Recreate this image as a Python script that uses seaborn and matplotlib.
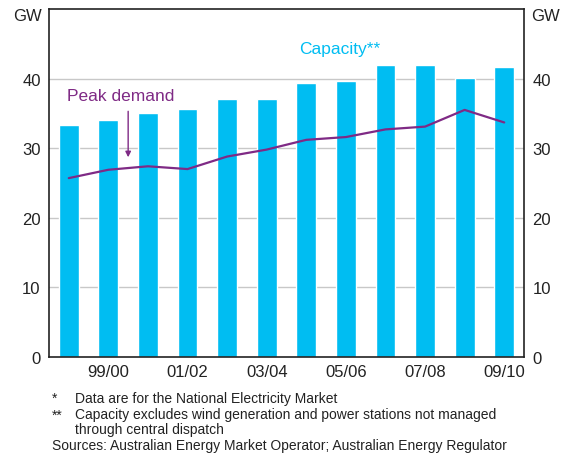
import numpy as np
import pandas as pd
import matplotlib
matplotlib.use("Agg")
import matplotlib.pyplot as plt
import seaborn as sns

years = ["98/99", "99/00", "00/01", "01/02", "02/03", "03/04",
         "04/05", "05/06", "06/07", "07/08", "08/09", "09/10"]
capacity = [33.4, 34.1, 35.1, 35.7, 37.0, 37.1, 39.4, 39.7, 41.9, 42.0, 40.1, 41.7]
peak_demand = [25.7, 26.9, 27.4, 27.0, 28.8, 29.8, 31.2, 31.6, 32.7, 33.1, 35.5, 33.7]
y_ticks = [0, 10, 20, 30, 40]

BAR = "#00BDF2"
LINE = "#7F2A85"
GRID = "#C8C8C8"

sns.set_style("white")
plt.rcParams["font.family"] = ["Liberation Sans", "DejaVu Sans"]

df = pd.DataFrame({"year": years, "capacity": capacity,
                   "peak": peak_demand, "pos": np.arange(len(years))})

fig = plt.figure(figsize=(5.71, 4.56), dpi=100)
ax = fig.add_axes([0.0858, 0.2149, 0.8319, 0.7632])

sns.barplot(data=df, x="year", y="capacity", color=BAR, width=0.5,
            saturation=1, ax=ax, zorder=2)
sns.lineplot(data=df, x="pos", y="peak", color=LINE, linewidth=1.6,
             ax=ax, zorder=3)

ax.set_xlim(-0.5, len(years) - 0.5)
ax.set_ylim(0, 50)
ax.set_yticks(y_ticks)
for y in y_ticks[1:]:
    ax.axhline(y, color=GRID, linewidth=1, zorder=1)

# x labels on every second year, ticks between bars
ax.set_xticks(np.arange(1, len(years), 2))
ax.set_xticklabels(years[1::2], fontsize=12, color="#222222")
ax.tick_params(axis="x", length=0, pad=5)
ax.set_xticks(np.arange(0.5, len(years) - 0.5, 1), minor=True)
ax.tick_params(axis="x", which="minor", direction="in", length=5,
               width=1, color="#222222")
ax.tick_params(axis="y", length=0, labelsize=12, labelcolor="#222222", pad=6)
ax.set_xlabel("")
ax.set_ylabel("")
for s in ax.spines.values():
    s.set_color("#222222")
    s.set_linewidth(1.2)

ax2 = ax.twinx()
ax2.set_ylim(0, 50)
ax2.set_yticks(y_ticks)
ax2.tick_params(axis="y", length=0, labelsize=12, labelcolor="#222222", pad=6)
for s in ax2.spines.values():
    s.set_visible(False)

fig.text(0.049, 0.964, "GW", fontsize=12, ha="center", va="center", color="#222222")
fig.text(0.955, 0.964, "GW", fontsize=12, ha="center", va="center", color="#222222")

ax.text(6.85, 44.3, "Capacity**", fontsize=12.5, color=BAR, ha="center", va="center")
ax.text(1.31, 37.6, "Peak demand", fontsize=12.5, color=LINE, ha="center", va="center")
ax.annotate("", xy=(1.5, 28.7), xytext=(1.5, 35.3),
            arrowprops=dict(arrowstyle="-|>", color=LINE, lw=1,
                            mutation_scale=8, shrinkA=0, shrinkB=0))

foot = dict(fontsize=10, color="#222222", va="center")
fig.text(0.091, 0.125, "*", **foot)
fig.text(0.131, 0.125, "Data are for the National Electricity Market", **foot)
fig.text(0.091, 0.089, "**", **foot)
fig.text(0.131, 0.089, "Capacity excludes wind generation and power stations not managed", **foot)
fig.text(0.131, 0.057, "through central dispatch", **foot)
fig.text(0.091, 0.021, "Sources: Australian Energy Market Operator; Australian Energy Regulator", **foot)

fig.savefig("out.png", dpi=100)
